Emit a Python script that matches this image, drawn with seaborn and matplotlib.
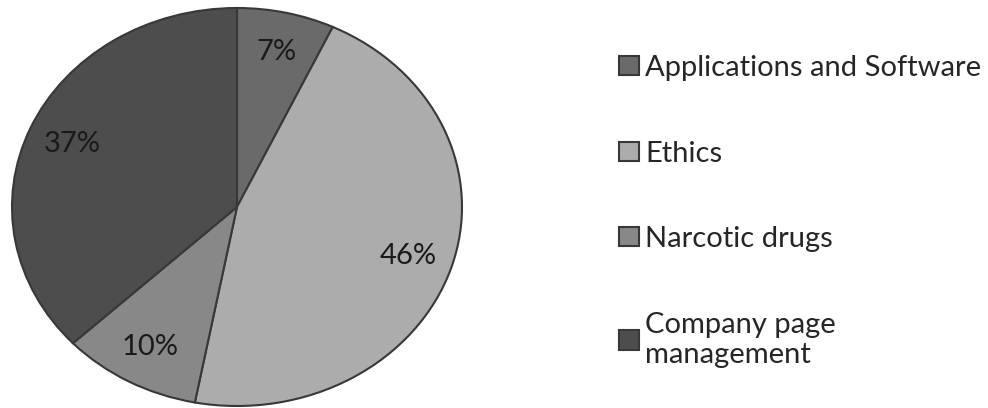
#! /usr/bin/env python
"""
Pie chart of topic shares
"""

import seaborn as sns
import matplotlib.pyplot as plt

topics = [
    "Applications and Software",
    "Ethics",
    "Narcotic drugs",
    "Company page\nmanagement",
]
shares = [7, 46, 10, 37]
greys = ["#6a6a6a", "#acacac", "#888888", "#4d4d4d"]


def run() -> None:
    sns.set_style("white")
    plt.rcParams["font.family"] = ["Lato", "DejaVu Sans"]

    fig = plt.figure(figsize=(9.88, 4.08), dpi=100)
    ax = fig.add_axes([12 / 988, 2 / 408, 450 / 988, 398 / 408])

    wedges, _, autotexts = ax.pie(
        shares,
        colors=greys,
        startangle=90,
        counterclock=False,
        autopct="%d%%",
        pctdistance=0.8,
        wedgeprops=dict(edgecolor="#383838", linewidth=1.5),
        textprops=dict(fontsize=21, color="#1a1a1a"),
    )
    ax.set_aspect("auto")
    ax.set_xlim(-1.0, 1.0)
    ax.set_ylim(-1.0, 1.0)

    fig.legend(
        wedges,
        topics,
        loc="upper left",
        bbox_to_anchor=(619 / 988, 1 - 55 / 408),
        frameon=False,
        fontsize=21,
        handlelength=0.7,
        handleheight=0.65,
        handletextpad=0.2,
        labelspacing=2.04,
        borderpad=0,
        borderaxespad=0,
    )

    fig.savefig("out.png", dpi=100)


if __name__ == "__main__":
    run()
